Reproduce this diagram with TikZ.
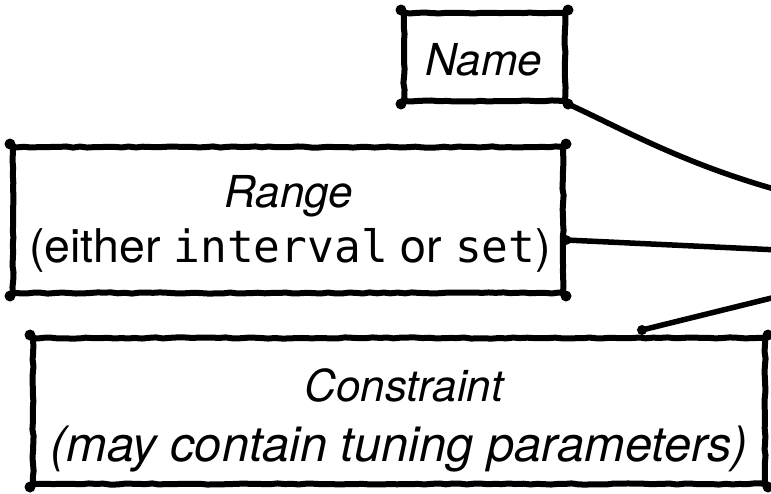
\documentclass[tikz,border=0pt]{standalone}
\usepackage{fontspec}
\setmainfont{TeX Gyre Heros}
\newfontfamily\codefont{DejaVu Sans Mono}
\usetikzlibrary{decorations.pathmorphing,calc}

\tikzset{
  sketch/.style={line width=6pt, line cap=round, line join=round,
    decorate, decoration={random steps, segment length=7pt, amplitude=0.6pt}},
  boxshape/.style={sketch, rectangle, draw, inner sep=0pt},
  label/.style={anchor=base, inner sep=0pt, font=\fontsize{44}{44}\selectfont},
  biglabel/.style={label, font=\fontsize{48.8}{48}\selectfont},
  midlabel/.style={label, font=\fontsize{46.5}{46}\selectfont},
  link/.style={line width=5.5pt, line cap=round},
}
\newcommand{\code}[1]{{\codefont\fontsize{44.5}{44}\selectfont #1}}

\begin{document}
\begin{tikzpicture}[x=1pt, y=-1pt]
  \useasboundingbox (0,0) rectangle (771,493);
  \clip (0,0) rectangle (771,493);

  % boxes
  \node[boxshape, minimum width=161pt, minimum height=88pt] (name) at (484.5,57) {};
  \node[boxshape, minimum width=550pt, minimum height=146pt] (range) at (288,220) {};
  \node[boxshape, minimum width=732pt, minimum height=146pt] (cons) at (399,411) {};

  % ink blots at the corners
  \foreach \b in {name,range,cons}
    \foreach \c in {north west,north east,south west,south east}
      \fill (\b.\c) circle (5.5pt);

  % labels
  \node[label] (namelbl) at (484,75) {\itshape Name};
  \node[label] (rangelbl) at (289,207) {\itshape Range};
  \node[midlabel] (rangesub) at (290,262) {(either \code{interval} or \code{set})};
  \node[label] (conslbl) at (404,401) {\itshape Constraint};
  \node[biglabel] (conssub) at (399,461) {\itshape (may contain tuning parameters)};

  % connectors leaving to the right
  \coordinate (nameend) at (800,196);
  \coordinate (rangeend) at (800,251);
  \coordinate (consend) at (800,291);
  \coordinate (rangestart) at ([yshift=-20pt]range.east);
  \coordinate (consstart) at ([xshift=243pt,yshift=5pt]cons.north);

  \draw[link] (name.south east) .. controls (625,130) and (690,168) .. (nameend);
  \draw[link] (rangestart) -- (rangeend);
  \fill (rangestart) circle (5pt);
  \draw[link] (consstart) -- (consend);
  \fill (consstart) circle (5pt);
\end{tikzpicture}
\end{document}
